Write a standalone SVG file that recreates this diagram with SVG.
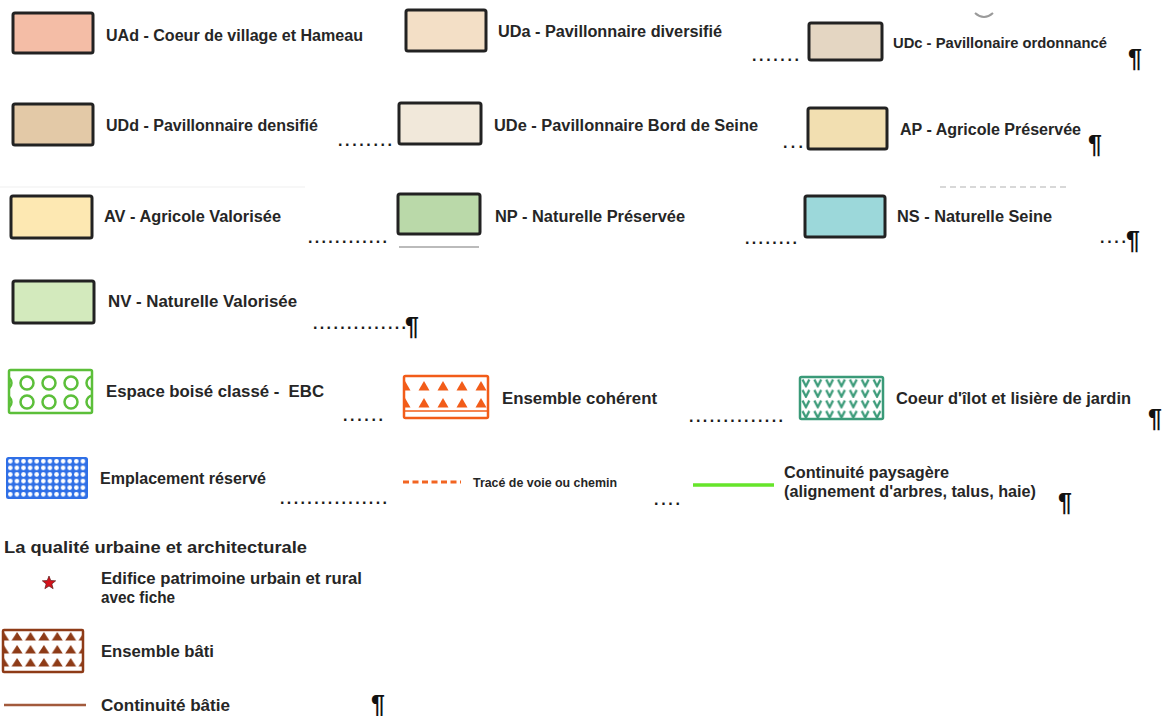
<svg xmlns="http://www.w3.org/2000/svg" width="1166" height="716" viewBox="0 0 1166 716">
<style>
.t{font-family:"Liberation Sans",Arial,Helvetica,sans-serif;font-weight:bold;font-size:16px;fill:#262626;white-space:pre}
.s{font-size:14.5px}
.xs{font-size:12.5px}
.h{font-size:17px}
.dots{font-family:"Liberation Sans",Arial,sans-serif;font-weight:bold;font-size:16px;fill:#1a1a1a}
.pil{font-family:"Liberation Sans",Arial,sans-serif;font-weight:bold;font-size:25px;fill:#111}
.box{stroke:#222;stroke-width:3;rx:2}
</style>
<defs>
<clipPath id="cEBC"><rect x="9" y="370" width="83" height="43"/></clipPath>
<clipPath id="cEC"><rect x="404" y="376" width="84" height="42"/></clipPath>
<pattern id="pDots" x="7" y="458" width="6.6" height="6.6" patternUnits="userSpaceOnUse">
<rect width="6.6" height="6.6" fill="#2f6fe6"/>
<circle cx="3.3" cy="3.3" r="2.3" fill="#ffffff"/>
</pattern>
<pattern id="pV" x="800" y="377" width="11.86" height="10.5" patternUnits="userSpaceOnUse">
<rect width="11.86" height="10.5" fill="#ffffff"/>
<path d="M2.5,2.5 L5.9,9.2 L9.3,2.5" fill="none" stroke="#3a9a78" stroke-width="2.2"/>
</pattern>
<pattern id="pTri" x="-3" y="630" width="13.4" height="13" patternUnits="userSpaceOnUse">
<rect width="13.4" height="13" fill="#ffffff"/>
<polygon points="1.2,10.5 6.7,2 12.2,10.5" fill="#8e3b17"/>
</pattern>
</defs>

<g id="artifacts">
<path d="M975,13 Q984,21 993,13" fill="none" stroke="#9a9a9a" stroke-width="2"/>
<line x1="0" y1="187" x2="305" y2="187" stroke="#f4f4f4" stroke-width="1.5"/>
<line x1="940" y1="187" x2="1070" y2="187" stroke="#cccccc" stroke-width="1.5" stroke-dasharray="6 4"/>
<line x1="399" y1="247" x2="479" y2="247" stroke="#bbbbbb" stroke-width="2"/>
</g>

<g id="node-UAd">
<rect class="box" x="13" y="13" width="80" height="40" fill="#f4bda6"/>
<text class="t" x="106" y="41" textLength="257" lengthAdjust="spacingAndGlyphs">UAd - Coeur de village et Hameau</text>
</g>
<g id="node-UDa">
<rect class="box" x="406" y="10" width="80" height="41" fill="#f3dfc6"/>
<text class="t" x="498" y="37" textLength="224" lengthAdjust="spacingAndGlyphs">UDa - Pavillonnaire diversifié</text>
</g>
<g id="node-UDc">
<rect class="box" x="809" y="23" width="73" height="37" fill="#e4d6c2"/>
<text class="t s" x="893" y="48" textLength="214" lengthAdjust="spacingAndGlyphs">UDc - Pavillonaire ordonnancé</text>
</g>
<g id="node-UDd">
<rect class="box" x="13" y="104" width="80" height="41" fill="#e3c9a7"/>
<text class="t" x="106" y="131" textLength="212" lengthAdjust="spacingAndGlyphs">UDd - Pavillonnaire densifié</text>
</g>
<g id="node-UDe">
<rect class="box" x="399" y="103" width="82" height="41" fill="#f1e8da"/>
<text class="t" x="494" y="131" textLength="264" lengthAdjust="spacingAndGlyphs">UDe - Pavillonnaire Bord de Seine</text>
</g>
<g id="node-AP">
<rect class="box" x="808" y="108" width="79" height="41" fill="#f2dfb1"/>
<text class="t" x="900" y="135" textLength="181" lengthAdjust="spacingAndGlyphs">AP - Agricole Préservée</text>
</g>
<g id="node-AV">
<rect class="box" x="11" y="196" width="81" height="42" fill="#fde8b2"/>
<text class="t" x="104" y="222" textLength="177" lengthAdjust="spacingAndGlyphs">AV - Agricole Valorisée</text>
</g>
<g id="node-NP">
<rect class="box" x="398" y="194" width="82" height="40" fill="#bad9a9"/>
<text class="t" x="495" y="222" textLength="190" lengthAdjust="spacingAndGlyphs">NP - Naturelle Préservée</text>
</g>
<g id="node-NS">
<rect class="box" x="805" y="196" width="80" height="41" fill="#9cd8da"/>
<text class="t" x="897" y="222" textLength="155" lengthAdjust="spacingAndGlyphs">NS - Naturelle Seine</text>
</g>
<g id="node-NV">
<rect class="box" x="13" y="281" width="81" height="42" fill="#d3eabd"/>
<text class="t" x="108" y="307" textLength="189" lengthAdjust="spacingAndGlyphs">NV - Naturelle Valorisée</text>
</g>

<g id="node-EBC">
<rect x="9" y="370" width="83" height="43" fill="#ffffff"/>
<g clip-path="url(#cEBC)" fill="none" stroke="#5cbf3a" stroke-width="2.5">
<circle cx="5" cy="383" r="6.5"/><circle cx="27" cy="383" r="6.5"/><circle cx="49" cy="383" r="6.5"/><circle cx="71" cy="383" r="6.5"/><circle cx="93" cy="383" r="6.5"/>
<circle cx="5" cy="402" r="6.5"/><circle cx="27" cy="402" r="6.5"/><circle cx="49" cy="402" r="6.5"/><circle cx="71" cy="402" r="6.5"/><circle cx="93" cy="402" r="6.5"/>
</g>
<rect x="9" y="370" width="83" height="43" fill="none" stroke="#5cbf3a" stroke-width="2.5" rx="1.5"/>
<text class="t" x="106" y="397" textLength="218" lengthAdjust="spacingAndGlyphs">Espace boisé classé -  EBC</text>
</g>

<g id="node-EnsembleCoherent">
<rect x="404" y="376" width="84" height="42" fill="#ffffff"/>
<g clip-path="url(#cEC)" fill="#f25c19">
<polygon points="399.5,390.5 405,381 410.5,390.5"/><polygon points="418.5,390.5 424,381 429.5,390.5"/><polygon points="437.5,390.5 443,381 448.5,390.5"/><polygon points="456.5,390.5 462,381 467.5,390.5"/><polygon points="475.5,390.5 481,381 486.5,390.5"/>
<polygon points="399.5,407.5 405,398 410.5,407.5"/><polygon points="418.5,407.5 424,398 429.5,407.5"/><polygon points="437.5,407.5 443,398 448.5,407.5"/><polygon points="456.5,407.5 462,398 467.5,407.5"/><polygon points="475.5,407.5 481,398 486.5,407.5"/>
</g>
<line x1="404" y1="411" x2="488" y2="411" stroke="#f25c19" stroke-width="1.5"/>
<rect x="404" y="376" width="84" height="42" fill="none" stroke="#f25c19" stroke-width="2.5" rx="1.5"/>
<text class="t" x="502" y="404" textLength="155" lengthAdjust="spacingAndGlyphs">Ensemble cohérent</text>
</g>

<g id="node-CoeurIlot">
<rect x="800" y="377" width="83" height="42" fill="url(#pV)" stroke="#3a9a78" stroke-width="2.5" rx="1.5"/>
<text class="t" x="896" y="404" textLength="235" lengthAdjust="spacingAndGlyphs">Coeur d'îlot et lisière de jardin</text>
</g>

<g id="node-Emplacement">
<rect x="7" y="458" width="80" height="40" fill="url(#pDots)" stroke="#2f6fe6" stroke-width="2" rx="1.5"/>
<text class="t" x="100" y="484" textLength="166" lengthAdjust="spacingAndGlyphs">Emplacement réservé</text>
</g>

<g id="node-Trace">
<line x1="403" y1="482" x2="461" y2="482" stroke="#f26522" stroke-width="3" stroke-dasharray="6 3.5"/>
<text class="t xs" x="473" y="487" textLength="144" lengthAdjust="spacingAndGlyphs">Tracé de voie ou chemin</text>
</g>

<g id="node-ContinuitePaysagere">
<line x1="693" y1="485" x2="774" y2="485" stroke="#66e52a" stroke-width="3.5"/>
<text class="t" x="784" y="478" textLength="165" lengthAdjust="spacingAndGlyphs">Continuité paysagère</text>
<text class="t" x="784" y="497" textLength="252" lengthAdjust="spacingAndGlyphs">(alignement d'arbres, talus, haie)</text>
</g>

<g id="title">
<text class="t h" x="4" y="553" textLength="303" lengthAdjust="spacingAndGlyphs">La qualité urbaine et architecturale</text>
</g>

<g id="node-Edifice">
<polygon points="49,576 50.76,580.57 55.66,580.84 51.85,583.93 53.11,588.66 49,586 44.89,588.66 46.15,583.93 42.34,580.84 47.24,580.57" fill="#d4121b" stroke="#5a1a1a" stroke-width="0.7"/>
<text class="t" x="101" y="584" textLength="261" lengthAdjust="spacingAndGlyphs">Edifice patrimoine urbain et rural</text>
<text class="t" x="101" y="603" textLength="74" lengthAdjust="spacingAndGlyphs">avec fiche</text>
</g>

<g id="node-EnsembleBati">
<rect x="3" y="630" width="80" height="42" fill="url(#pTri)" stroke="#8e3b17" stroke-width="2.5" rx="1"/>
<text class="t" x="101" y="657" textLength="113" lengthAdjust="spacingAndGlyphs">Ensemble bâti</text>
</g>

<g id="node-ContinuiteBatie">
<line x1="4" y1="705" x2="86" y2="705" stroke="#a25a3c" stroke-width="2.5"/>
<text class="t" x="101" y="711" textLength="129" lengthAdjust="spacingAndGlyphs">Continuité bâtie</text>
</g>

<g id="leaders">
<text class="dots" x="752" y="61" textLength="47" lengthAdjust="spacing">.......</text>
<text class="dots" x="338" y="146" textLength="54" lengthAdjust="spacing">........</text>
<text class="dots" x="783" y="148" textLength="20" lengthAdjust="spacing">...</text>
<text class="dots" x="308" y="243" textLength="79" lengthAdjust="spacing">............</text>
<text class="dots" x="745" y="244" textLength="52" lengthAdjust="spacing">........</text>
<text class="dots" x="1100" y="243" textLength="26" lengthAdjust="spacing">....</text>
<text class="dots" x="313" y="329" textLength="93" lengthAdjust="spacing">..............</text>
<text class="dots" x="343" y="421" textLength="40" lengthAdjust="spacing">......</text>
<text class="dots" x="689" y="422" textLength="94" lengthAdjust="spacing">..............</text>
<text class="dots" x="280" y="504" textLength="107" lengthAdjust="spacing">................</text>
<text class="dots" x="654" y="505" textLength="26" lengthAdjust="spacing">....</text>
</g>

<g id="pilcrows">
<text class="pil" x="1128" y="67">¶</text>
<text class="pil" x="1088" y="153">¶</text>
<text class="pil" x="1126" y="249">¶</text>
<text class="pil" x="405" y="335">¶</text>
<text class="pil" x="1148" y="427">¶</text>
<text class="pil" x="1058" y="511">¶</text>
<text class="pil" x="371" y="713">¶</text>
</g>
</svg>
